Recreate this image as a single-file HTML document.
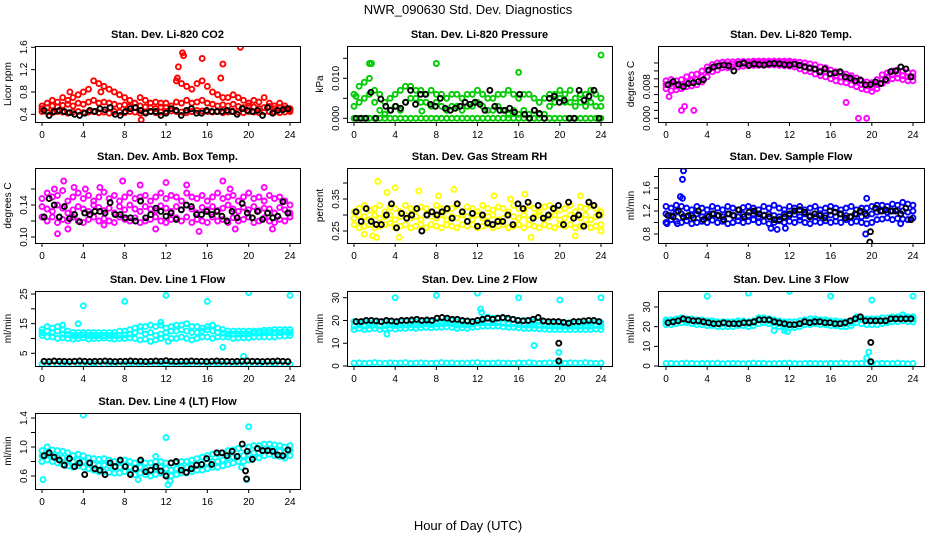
<!DOCTYPE html>
<html><head><meta charset="utf-8"><style>
body{margin:0;background:#fff}
svg{display:block;font-family:"Liberation Sans",sans-serif}
</style></head><body>
<svg id="c" width="936" height="540"></svg>
<script>
const co2Lo=[.45,.44,.43,.45,.44,.42,.44,.45,.43,.44,.45,.43,.44,.42,.45,.44,.43,.45,.44,.42,.44,.45,.43,.44,.45,.46,.45,.44,.43,.45,.47,.46,.45,.44,.45,.43,.44,.45,.44,.43,.45,.44,.43,.44,.45,.44,.43,.44,.45];
const co2Mid=[.5,.52,.55,.53,.56,.58,.55,.6,.58,.62,.65,.6,.62,.6,.58,.55,.57,.54,.52,.55,.53,.52,.5,.53,.52,.5,.62,.6,.65,.6,.62,.65,.6,.58,.55,.57,.55,.58,.54,.52,.55,.53,.5,.52,.54,.5,.52,.5,.48];
const co2Hi=[.55,.6,.65,.62,.7,.65,.7,.75,.8,.85,1.0,.95,.9,.85,.8,.75,.7,.65,.6,.7,.65,.6,.62,.6,.6,.55,1.0,.95,.9,.85,.95,1.0,.9,.8,.75,.7,.7,.75,.7,.65,.6,.65,.62,.7,.6,.55,.6,.55,.5];
const co2OutT=[5.7,13.1,13.6,13.7,15.5,17.5,17.3,19.2,13.2,2.7,9.6];
const co2OutV=[.8,1.05,1.5,1.45,1.4,1.3,1.05,1.6,1.25,.8,.3];
const co2Black=[.47,.38,.45,.47,.45,.43,.4,.38,.42,.47,.45,.5,.48,.52,.4,.38,.45,.5,.52,.47,.42,.45,.45,.38,.42,.5,.47,.38,.47,.5,.42,.42,.47,.45,.45,.45,.47,.45,.4,.5,.47,.45,.47,.38,.52,.42,.47,.48,.5];

const prLo=[0,0,0,0,0,0,0,0,0,0,0,0,0,0,0,0,0,0,0,0,0,0,0,0,0,0,0,0,0,0,0,0,0,0,0,0,0,0,0,0,0,0,0,0,0,0,0,0,0];
const prMid=[.003,.004,.005,.006,.004,.002,.001,.002,.003,.002,.004,.005,.005,.004,.004,.003,.004,.003,.002,.003,.003,.002,.003,.003,.004,.003,.002,.002,.003,.002,.001,.002,.001,.002,.001,.002,.001,.001,.003,.004,.005,.004,.004,.003,.004,.003,.004,.003,.003];
const prHi=[.006,.008,.009,.01,.007,.006,.004,.005,.006,.007,.008,.008,.007,.007,.006,.007,.006,.006,.005,.006,.006,.005,.006,.006,.007,.006,.005,.005,.006,.006,.007,.006,.005,.006,.006,.005,.004,.005,.006,.006,.007,.006,.007,.005,.006,.006,.007,.006,.005];
const prOutT=[1.5,1.7,8,16,24,0.2,6.6];
const prOutV=[.0137,.0137,.0137,.0115,.0158,.0055,.0018];
const prBlack=[0,0,0,.0065,0,.0048,.003,.002,.003,.0025,.004,.007,.0035,.006,.006,.0035,.003,.005,.0025,.002,.0025,.003,.004,.0035,.004,.0035,.002,.007,.003,.002,.002,.0025,.0015,.006,.001,0,.002,.0012,0,.005,.0055,.004,.0045,0,0,.007,.0045,.0055,.007,0];

const tmpLo=[.0075,.007,.0072,.0075,.008,.0082,.0085,.0092,.0105,.0118,.0122,.0128,.0128,.013,.013,.0132,.0133,.0134,.0134,.0134,.0135,.0135,.0134,.0133,.0132,.013,.0125,.012,.0118,.0112,.0108,.0105,.01,.0095,.0092,.009,.0085,.008,.0075,.0072,.0068,.0075,.0088,.0095,.01,.0102,.0098,.0095,.0095];
const tmpMid=[.0085,.0088,.0082,.0085,.0092,.0095,.0098,.0105,.012,.0128,.0132,.0135,.0136,.0137,.0138,.0139,.0139,.014,.014,.014,.0141,.0141,.0141,.0141,.014,.0138,.0135,.0132,.0128,.0125,.012,.0118,.0112,.0108,.0105,.0102,.0098,.0092,.0085,.0082,.0078,.0085,.0098,.0105,.011,.0112,.0108,.0105,.0105];
const tmpHi=[.0095,.0098,.0095,.0098,.0105,.011,.0112,.012,.013,.0136,.014,.0142,.0143,.0143,.0144,.0144,.0144,.0145,.0145,.0145,.0145,.0145,.0145,.0145,.0145,.0143,.0142,.014,.0138,.0135,.013,.0128,.0122,.0118,.0115,.0112,.0108,.0102,.0095,.0092,.009,.0098,.011,.0115,.012,.0122,.012,.0116,.0115];
const tmpOutT=[18.7,19.5,1.5,2.7,1.8,17.5,0.3];
const tmpOutV=[0,0,.002,.002,.003,.004,.0055];
const tmpBlack=[.0085,.0093,.0085,.008,.0088,.009,.0093,.0098,.0122,.013,.0133,.0135,.0133,.012,.0137,.014,.0134,.0138,.0136,.0135,.0138,.0139,.0138,.0136,.0135,.0137,.0134,.013,.0127,.0125,.0117,.0125,.0113,.0115,.0118,.0105,.0102,.0095,.0097,.0085,.0085,.0092,.0088,.0098,.0118,.012,.013,.0125,.0105];

const ambLo=[.125,.12,.125,.118,.122,.12,.125,.12,.118,.122,.125,.12,.123,.12,.118,.125,.122,.12,.124,.118,.12,.122,.125,.12,.118,.122,.124,.12,.125,.118,.122,.12,.118,.125,.12,.122,.118,.124,.12,.122,.125,.118,.12,.124,.12,.118,.122,.12,.125];
const ambMid=[.138,.135,.132,.14,.136,.13,.134,.138,.135,.132,.14,.137,.133,.136,.13,.138,.134,.14,.135,.132,.138,.135,.133,.139,.136,.132,.138,.134,.14,.135,.13,.137,.134,.138,.133,.136,.14,.135,.132,.137,.134,.138,.133,.136,.135,.13,.137,.134,.13];
const ambHi=[.148,.155,.15,.152,.158,.145,.15,.155,.148,.152,.145,.15,.156,.148,.152,.145,.15,.155,.148,.15,.152,.145,.15,.155,.148,.152,.15,.145,.155,.15,.148,.152,.145,.15,.155,.148,.15,.152,.145,.15,.155,.148,.15,.145,.152,.148,.15,.145,.14];
const ambOutT=[1.2,2.1,3.1,4.2,5.6,7.8,9.5,12,14,17.5,18.2,21.5,1.5,11,15.2,18.7,22.3,6,2.5];
const ambOutV=[.16,.17,.162,.16,.162,.17,.165,.168,.165,.17,.16,.162,.104,.11,.107,.11,.11,.115,.11];
const ambBlack=[.125,.148,.14,.125,.138,.123,.128,.119,.13,.128,.132,.132,.13,.143,.128,.128,.124,.124,.12,.145,.124,.128,.136,.132,.126,.13,.122,.134,.14,.138,.128,.128,.132,.128,.132,.126,.12,.132,.124,.142,.13,.124,.132,.122,.13,.124,.126,.144,.13];

const rhLo=[.27,.26,.265,.27,.26,.265,.27,.275,.26,.265,.27,.26,.265,.27,.26,.27,.265,.26,.27,.265,.26,.27,.265,.27,.26,.265,.27,.26,.265,.27,.26,.265,.27,.26,.27,.265,.26,.27,.265,.26,.27,.265,.27,.26,.265,.27,.26,.265,.27];
const rhMid=[.29,.3,.295,.285,.3,.29,.295,.3,.285,.295,.3,.29,.295,.285,.3,.295,.29,.3,.285,.295,.29,.3,.295,.285,.3,.29,.295,.3,.285,.29,.3,.295,.29,.3,.285,.295,.3,.29,.295,.3,.285,.29,.3,.295,.29,.3,.285,.295,.3];
const rhHi=[.31,.32,.33,.315,.32,.33,.31,.325,.32,.31,.33,.32,.315,.325,.32,.31,.33,.32,.315,.32,.33,.31,.325,.32,.31,.33,.32,.315,.325,.32,.31,.33,.32,.315,.33,.32,.31,.325,.33,.32,.315,.32,.33,.31,.325,.32,.33,.32,.31];
const rhOutT=[2.3,3.2,4,6.3,8.2,9.7,13.6,15.2,16.6,22,1,2.2,4.4,17.2,21.5,24,1.8];
const rhOutV=[.405,.37,.385,.375,.36,.38,.36,.35,.365,.36,.24,.23,.23,.23,.235,.25,.235];
const rhBlack=[.31,.28,.32,.28,.27,.27,.3,.335,.26,.305,.29,.3,.32,.25,.3,.31,.3,.31,.32,.29,.335,.31,.28,.305,.265,.3,.275,.27,.28,.28,.3,.27,.335,.32,.34,.29,.33,.29,.3,.32,.33,.27,.34,.29,.3,.265,.34,.33,.3];

const sfLo=[1.0,1.05,1.02,1.0,1.03,.98,1.0,1.02,1.0,1.04,1.0,1.02,.98,1.0,1.03,1.0,1.02,1.05,1.0,1.02,.98,1.0,1.03,1.0,1.02,1.0,1.04,1.0,.98,1.02,1.0,1.03,1.0,1.02,1.0,1.05,1.0,1.02,1.0,.98,1.0,1.05,1.06,1.08,1.05,1.07,1.06,1.05,1.08];
const sfMid=[1.15,1.12,1.18,1.15,1.1,1.12,1.15,1.1,1.13,1.15,1.12,1.1,1.15,1.12,1.1,1.14,1.12,1.15,1.1,1.13,1.15,1.12,1.1,1.15,1.12,1.14,1.1,1.15,1.12,1.1,1.15,1.12,1.13,1.1,1.15,1.12,1.1,1.14,1.1,1.12,1.15,1.18,1.2,1.18,1.2,1.22,1.2,1.18,1.2];
const sfHi=[1.28,1.25,1.3,1.28,1.25,1.22,1.28,1.25,1.22,1.28,1.25,1.22,1.28,1.25,1.22,1.26,1.28,1.25,1.22,1.28,1.25,1.3,1.25,1.22,1.28,1.25,1.28,1.22,1.25,1.28,1.22,1.25,1.28,1.25,1.22,1.25,1.28,1.22,1.25,1.25,1.28,1.3,1.3,1.28,1.32,1.3,1.35,1.32,1.3];
const sfOutT=[1.7,1.6,1.4,1.6,0.1,19.5,19.4,10.2,10.8,11.6,22.8,1.1];
const sfOutV=[1.9,1.75,1.45,1.42,.98,1.42,.8,.9,.88,.9,.98,.98];
const sfBlack=[1.12,1.1,1.2,1.1,1.12,1.08,1.2,1.05,1.1,1.15,1.12,1.05,1.15,1.12,1.22,1.1,1.18,1.2,1.15,1.12,1.1,1.05,1.05,1.1,1.15,1.2,1.22,1.18,1.1,1.15,1.12,1.08,1.2,1.18,1.15,1.08,1.1,1.15,1.2,1.15,.84,1.25,1.2,1.22,1.2,1.2,1.15,1.25,1.05];
const sfBOutT=[19.8];const sfBOutV=[.66];

const baseRow=[1.3,1.4,1.2,1.3,1.5,1.3,1.2,1.4,1.3,1.3,1.5,1.2,1.3,1.4,1.3,1.2,1.3,1.5,1.3,1.4,1.2,1.3,1.3,1.4,1.5,1.3,1.2,1.3,1.4,1.3,1.3,1.2,1.4,1.3,1.5,1.3,1.2,1.3,1.4,1.3,1.3,1.2,1.4,1.3,1.3,1.5,1.3,1.2,1.3];

const l1Lo=[11,10.5,10.5,10,10.2,10,9.8,10,10.2,9.8,10,10,10.2,10,9.8,10,10,10.2,10,9.5,9.8,9,9.5,10,10.5,10,10,10.5,10,9.5,10,10.5,10.5,10,10.5,10.5,10.5,10,10.2,10.2,10.2,10.5,10.5,10.5,10.5,10.5,10.8,10.8,11];
const l1Mid=[12,12.5,12,12.5,11.5,11.3,11,11,11.2,11,11,11,11,11,11,11,11.2,11.5,12,12.5,11.5,12,11,11.5,12,12.5,12.5,13,12.5,12,12,12.5,13,12.5,12,11.8,11.5,11.5,11.5,11.5,11.5,11.8,11.8,12,12,12,12,12.2,12];
const l1Hi=[13,14,13.5,14,13,12.5,12,12,12,12,12,12,12,12,12,12.5,12.5,13,13.5,14,14,14.5,14,14.5,13.5,14,14.5,14.5,15,14,14,13.5,14,14.5,13.5,13,12.5,12.5,12.5,12.5,12.5,12.5,12.5,12.8,12.8,13,13,13,13];
const l1OutT=[4,8,12,16,20,24,17.5,19.5,2,3.5,11.5,12.2];
const l1OutV=[21,22.5,24.5,22.5,25.5,24.5,7,4,14.5,15,15.5,9];
const l1Black=[2.3,2.2,2.4,2.3,2.3,2.2,2.3,2.4,2.3,2.2,2.3,2.3,2.4,2.3,2.2,2.3,2.3,2.4,2.3,2.3,2.2,2.3,2.4,2.3,2.5,2.3,2.2,2.3,2.3,2.4,2.3,2.3,2.2,2.3,2.4,2.3,2.3,2.2,2.3,2.3,2.4,2.3,2.3,2.2,2.3,2.3,2.4,2.3,2.2];

const l2Lo=[16,16.5,16,16.2,16.5,16,16.3,16.5,16.2,16.5,16.5,16.8,16.5,16.8,17,16.8,17,17,17.2,17,16.5,16.8,16.5,17,17.2,17.5,17.5,17.5,17.5,17.2,17,17,16.8,16.5,16.5,16.5,16.3,16.2,16,16,16,16,16,16,16,16,16,16.2,16];
const l2Mid=[17.5,18,17.5,17.8,18,17.5,17.8,18,17.8,18,18,18.2,18,18.2,18.5,18.2,18.5,18.5,18.8,18.5,18,18.2,18,18.5,18.8,19,19,19,19,18.8,18.5,18.5,18.2,18,18,18,17.8,17.8,17.5,17.5,17.5,17.5,17.5,17.5,17.5,17.5,17.5,17.8,17.5];
const l2Hi=[19.5,19,19.5,19,19.5,19.5,19.5,19.5,19,19.5,19.5,19.5,19.5,19.5,19.5,19.5,19.5,19.5,20,20,19.5,19.5,19.5,19.5,20,20,21.5,21,21,21,20.5,20.5,20,20,19.5,19.5,19.5,19.5,19,19,19,19,19,19,19,19,19,19.5,19];
const l2OutT=[4,8,12,16,20,24,12.3,12.4,3.2,17.5,19.9];
const l2OutV=[30,31,32,30,29,30,25,23.5,14,9,6];
const l2Black=[19.5,19.5,20,20,19.8,19.5,20,19.8,19.5,20,20,20.2,20.5,20,20.2,20,21,21.3,21,20.5,20.5,20,19.8,19.5,20,20.5,21,20.5,21,21.3,21,20.5,20,19.8,20,20.5,21.3,19.8,19.5,19.5,19.5,19.2,18.8,19.5,19.5,19.8,20,20,19.5];
const l2BOutT=[19.9,19.9];const l2BOutV=[10,2.2];

const l3Lo=[21,21,21.5,22,22,21.5,21,21,20.5,20.5,20,20,20,20,20.5,20.5,20,20.5,21.5,22,21.5,20.5,20,19.5,19.5,19.5,20,21,21,21.5,21,21,20.5,20.5,20,20,20.5,22,21.5,21,21,21,21.5,22,22.5,22.5,23,22.5,22.5];
const l3Mid=[22.5,22.5,23,23.5,23,23,22.5,22.5,22,22,21.5,21.5,21.5,21.5,22,22,21.5,22,23.5,23.5,23,22,21.5,21,21,21,21.5,22.5,22.5,23,22.5,22.5,22,22,21.5,21.5,22,24,23.5,23,23,23,23,23,24,24,24.5,24,24];
const l3Hi=[23.5,23.5,24,24.5,24,24,23.5,23.5,23,23,22.5,22.5,22.5,22.5,23,23,22.5,23,24.5,24.5,24,23.5,23,22.5,22.5,22.5,23,23.5,24,24,23.5,23.5,23,23,22.5,22.5,23,25,24.5,24,24,24,24.5,24.5,25,25,26,25,25];
const l3OutT=[4,8,12,16,20,24,19.7,19.5,10.5,11.5,11.8];
const l3OutV=[35.5,37,38,35.5,33.5,35.5,7,4,18,18,17.5];
const l3Black=[22,22.5,23,24,23.5,23,23,22.5,22,21.5,21.5,22,21.5,21.5,21.5,22,22,22.5,23.5,23.5,23.5,22.5,22,21.5,21,21,21.5,22.5,22,22.5,22.5,22,22,21.5,21.5,22,23,24,25,23,23,23,23,23,24,24,24,24,24];
const l3BOutT=[19.9,19.9];const l3BOutV=[12,2.2];

const l4Lo=[.8,.82,.8,.78,.76,.74,.72,.74,.72,.7,.68,.66,.66,.65,.64,.64,.66,.64,.62,.64,.62,.6,.62,.64,.62,.6,.62,.64,.64,.66,.68,.68,.7,.72,.72,.74,.76,.78,.8,.8,.82,.85,.85,.88,.9,.88,.87,.85,.88];
const l4Mid=[.88,.9,.88,.86,.85,.82,.8,.82,.8,.78,.76,.75,.75,.74,.72,.72,.74,.72,.7,.72,.7,.68,.7,.72,.7,.68,.7,.72,.72,.74,.76,.76,.78,.8,.8,.82,.85,.86,.88,.88,.9,.92,.92,.95,.96,.95,.94,.92,.95];
const l4Hi=[.95,1.0,.96,.95,.94,.92,.88,.9,.88,.85,.84,.83,.84,.82,.8,.8,.82,.8,.78,.8,.78,.78,.8,.8,.78,.78,.78,.8,.8,.82,.84,.86,.88,.9,.9,.92,.95,.96,.98,.98,1.0,1.02,1.02,1.04,1.04,1.03,1.02,1.0,1.02];
const l4OutT=[0.1,4,12,20,12.2,12.4,9.3,19.8,19.3,11];
const l4OutV=[.55,1.44,1.13,1.28,.48,.53,.55,.55,.72,.87];
const l4Black=[.88,.92,.86,.82,.75,.84,.73,.78,.62,.78,.7,.68,.62,.78,.73,.82,.73,.62,.7,.82,.66,.68,.73,.67,.6,.78,.8,.68,.65,.7,.75,.76,.84,.76,.92,.92,.88,.94,.87,1.04,.94,.83,.98,.95,.95,.94,.89,.88,.96];
const l4BOutT=[19.8,19.7];const l4BOutV=[.56,.67];

const xTicks=[0,4,8,12,16,20,24];

const NS="http://www.w3.org/2000/svg";
const svg=document.getElementById('c');
function mk(tag,attrs,parent){const e=document.createElementNS(NS,tag);for(const k in attrs)e.setAttribute(k,attrs[k]);(parent||svg).appendChild(e);return e;}

const colX=[[35,300,42,290],[347,612,354,601],[658,924,666,913]];
const rowY=[[46,122],[168,243],[291,366],[413,489]];

const panels=[
 {name:'co2',title:'Stan. Dev. Li-820 CO2',yl:'Licor ppm',c:0,r:0,ref:[0.4,114.3,1.6,47.3],ticks:[0.4,0.8,1.2,1.6],labs:['0.4','0.8','1.2','1.6'],col:'#ff0000',bands:[co2Lo,co2Mid,co2Hi],oT:co2OutT,oV:co2OutV,blk:co2Black},
 {name:'pressure',title:'Stan. Dev. Li-820 Pressure',yl:'kPa',c:1,r:0,ref:[0,118.3,0.01,78.3],ticks:[0,0.005,0.01,0.015],labs:['0.000','','0.010',''],col:'#00cc00',bands:[prLo,prMid,prHi],oT:prOutT,oV:prOutV,blk:prBlack},
 {name:'temp',title:'Stan. Dev. Li-820 Temp.',yl:'degrees C',c:2,r:0,ref:[0,118.3,0.008,86.7],ticks:[0,.002,.004,.006,.008,.01,.012,.014],labs:['0.000','','','','0.008','','',''],col:'#ff00ff',bands:[tmpLo,tmpMid,tmpHi],oT:tmpOutT,oV:tmpOutV,blk:tmpBlack},
 {name:'amb-box-temp',title:'Stan. Dev. Amb. Box Temp.',yl:'degrees C',c:0,r:1,ref:[0.10,237,0.14,205],ticks:[.10,.12,.14,.16],labs:['0.10','','0.14',''],col:'#ff00ff',bands:[ambLo,ambMid,ambHi],oT:ambOutT,oV:ambOutV,blk:ambBlack},
 {name:'gas-stream-rh',title:'Stan. Dev. Gas Stream RH',yl:'percent',c:1,r:1,ref:[0.25,231,0.35,199],ticks:[.25,.30,.35,.40],labs:['0.25','','0.35',''],col:'#ffff00',bands:[rhLo,rhMid,rhHi],oT:rhOutT,oV:rhOutV,blk:rhBlack},
 {name:'sample-flow',title:'Stan. Dev. Sample Flow',yl:'ml/min',c:2,r:1,ref:[0.8,234,1.6,188],ticks:[.8,1.0,1.2,1.4,1.6,1.8],labs:['0.8','','1.2','','1.6',''],col:'#0000ff',bands:[sfLo,sfMid,sfHi],oT:sfOutT,oV:sfOutV,blk:sfBlack,bT:sfBOutT,bV:sfBOutV},
 {name:'line1-flow',title:'Stan. Dev. Line 1 Flow',yl:'ml/min',c:0,r:2,ref:[5,353.3,25,294],ticks:[5,10,15,20,25],labs:['5','','15','','25'],col:'#00ffff',bands:[baseRow,l1Lo,l1Mid,l1Hi],oT:l1OutT,oV:l1OutV,blk:l1Black},
 {name:'line2-flow',title:'Stan. Dev. Line 2 Flow',yl:'ml/min',c:1,r:2,ref:[0,366,30,297.7],ticks:[0,10,20,30],labs:['0','10','20','30'],col:'#00ffff',bands:[baseRow,l2Lo,l2Mid,l2Hi],oT:l2OutT,oV:l2OutV,blk:l2Black,bT:l2BOutT,bV:l2BOutV},
 {name:'line3-flow',title:'Stan. Dev. Line 3 Flow',yl:'ml/min',c:2,r:2,ref:[0,366,30,307],ticks:[0,10,20,30],labs:['0','10','20','30'],col:'#00ffff',bands:[baseRow,l3Lo,l3Mid,l3Hi],oT:l3OutT,oV:l3OutV,blk:l3Black,bT:l3BOutT,bV:l3BOutV},
 {name:'line4-flow',title:'Stan. Dev. Line 4 (LT) Flow',yl:'ml/min',c:0,r:3,ref:[0.6,476,1.4,418],ticks:[.6,.8,1.0,1.2,1.4],labs:['0.6','','1.0','','1.4'],col:'#00ffff',bands:[l4Lo,l4Mid,l4Hi],oT:l4OutT,oV:l4OutV,blk:l4Black,bT:l4BOutT,bV:l4BOutV}
];

const t1=mk('text',{x:468,y:14,'text-anchor':'middle','font-size':'13'});


t1.textContent='NWR_090630  Std. Dev. Diagnostics';
const t2=mk('text',{x:468,y:530,'text-anchor':'middle','font-size':'13'});


t2.textContent='Hour of Day (UTC)';

panels.forEach(p=>{
 const [bl,br,x0,x24]=colX[p.c];const [bt,bb]=rowY[p.r];
 const g=mk('g',{});
 
 
 const xs=t=>x0+(x24-x0)*t/24;
 const [v1,y1,v2,y2]=p.ref;
 const ys=v=>y1+(v-v1)*(y2-y1)/(v2-v1);
 const tt=mk('text',{x:(bl+br)/2,y:bt-8,'text-anchor':'middle','font-size':'11','font-weight':'bold'},g);
 
 
 tt.textContent=p.title;
 const yl=mk('text',{x:0,y:0,'text-anchor':'middle','font-size':'10',transform:`translate(${bl-24},${(bt+bb)/2}) rotate(-90)`},g);
 
 
 yl.textContent=p.yl;
 const clipId='cl'+p.name;
 const cp=mk('clipPath',{id:clipId},g);mk('rect',{x:bl,y:bt,width:br-bl,height:bb-bt},cp);
 const pts=mk('g',{'clip-path':`url(#${clipId})`,fill:'none','stroke-width':'1.9'},g);
 
 
 p.bands.forEach(arr=>{arr.forEach((v,i)=>{
   const c=mk('circle',{cx:xs(i*24/(arr.length-1)),cy:ys(v),r:2.5,stroke:p.col},pts);
   
   
 });});
 p.oT.forEach((t,i)=>{
   const c=mk('circle',{cx:xs(t),cy:ys(p.oV[i]),r:2.5,stroke:p.col},pts);
   
   
 });
 p.blk.forEach((v,i)=>{
   const c=mk('circle',{cx:xs(0.2+i*23.6/(p.blk.length-1)),cy:ys(v),r:2.5,stroke:'#000'},pts);
   
   
 });
 (p.bT||[]).forEach((t,i)=>{
   const c=mk('circle',{cx:xs(t),cy:ys(p.bV[i]),r:2.5,stroke:'#000'},pts);
   
   
 });
 const box=mk('rect',{x:bl+.5,y:bt+.5,width:br-bl,height:bb-bt,fill:'none',stroke:'#000','stroke-width':1},g);
 
 
 xTicks.forEach(t=>{
   mk('line',{x1:xs(t),x2:xs(t),y1:bb,y2:bb+4,stroke:'#000'},g);
   const tx=mk('text',{x:xs(t),y:bb+16,'text-anchor':'middle','font-size':'10'},g);
   
   
   tx.textContent=t;
 });
 p.ticks.forEach((v,i)=>{
   const y=ys(v);if(y<bt-1)return;
   mk('line',{x1:bl-4,x2:bl,y1:y,y2:y,stroke:'#000'},g);
   if(p.labs[i]){
     const tx=mk('text',{x:0,y:0,'text-anchor':'middle','font-size':'10',transform:`translate(${bl-8},${y}) rotate(-90)`},g);
     
     
     tx.textContent=p.labs[i];
   }
 });
});
</script>
</body></html>
